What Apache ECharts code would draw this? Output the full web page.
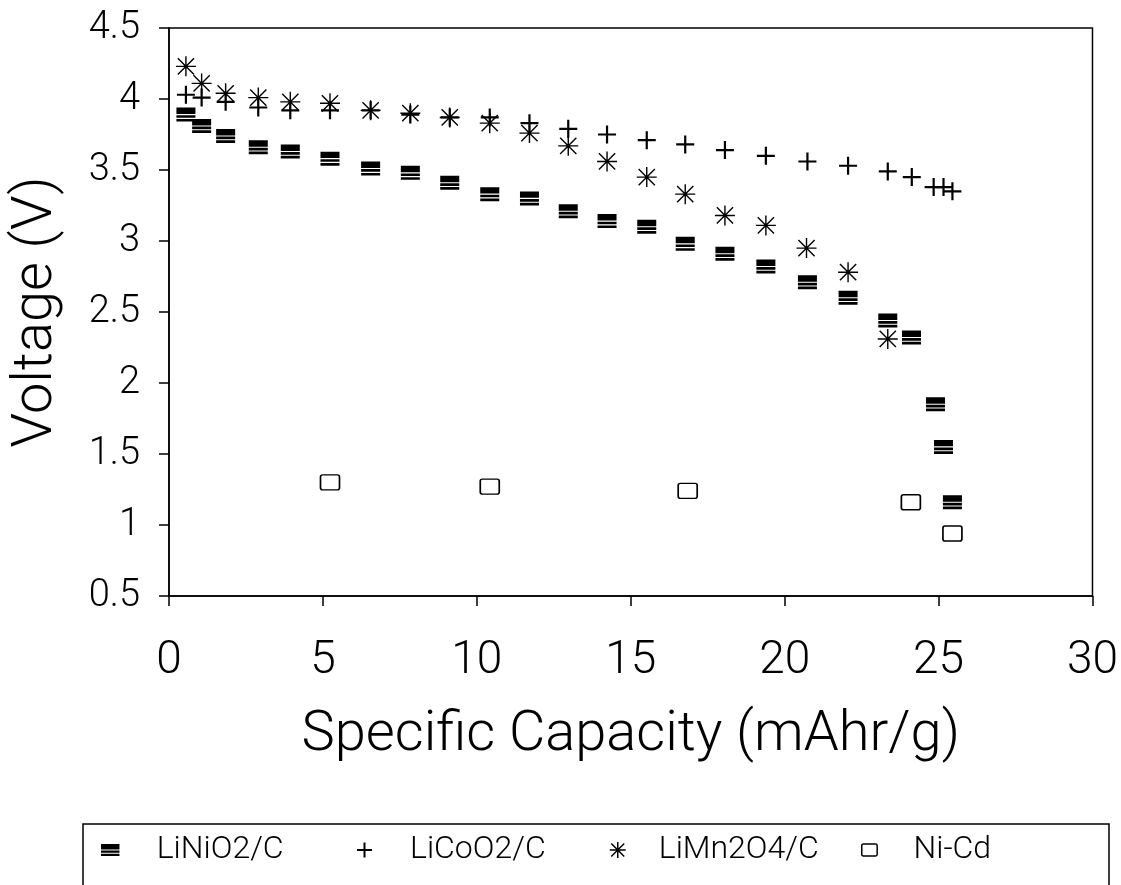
<!DOCTYPE html>
<html>
<head>
<meta charset="utf-8">
<script src="https://cdn.jsdelivr.net/npm/echarts@6/dist/echarts.min.js"></script>
<style>
  html, body { margin: 0; padding: 0; background: #fff; }
  #chart { width: 1121px; height: 885px; }
</style>
</head>
<body>
<div id="chart"></div>
<script>
// values
const seriesNames = ['LiNiO2/C', 'LiCoO2/C', 'LiMn2O4/C', 'Ni-Cd'];

const liNiCap = [0.55, 1.06, 1.84, 2.90, 3.94, 5.23, 6.55, 7.84, 9.12, 10.42, 11.71, 12.97, 14.23, 15.52, 16.77, 18.06, 19.39, 20.74, 22.06, 23.35, 24.12, 24.90, 25.16, 25.45];
const liNiVolt = [3.89, 3.81, 3.74, 3.66, 3.63, 3.58, 3.51, 3.48, 3.41, 3.33, 3.30, 3.21, 3.14, 3.10, 2.98, 2.91, 2.82, 2.71, 2.60, 2.44, 2.32, 1.85, 1.55, 1.16];

const liCoCap = [0.55, 1.06, 1.84, 2.90, 3.94, 5.23, 6.55, 7.84, 9.12, 10.42, 11.71, 12.97, 14.23, 15.52, 16.77, 18.06, 19.39, 20.74, 22.06, 23.35, 24.13, 24.84, 25.16, 25.45];
const liCoVolt = [4.03, 4.01, 3.98, 3.94, 3.92, 3.92, 3.92, 3.89, 3.87, 3.87, 3.83, 3.79, 3.75, 3.71, 3.68, 3.64, 3.60, 3.56, 3.53, 3.49, 3.45, 3.38, 3.38, 3.35];

const liMnCap = [0.55, 1.06, 1.84, 2.90, 3.94, 5.23, 6.55, 7.84, 9.12, 10.42, 11.71, 12.97, 14.23, 15.52, 16.77, 18.06, 19.39, 20.71, 22.06, 23.35];
const liMnVolt = [4.23, 4.11, 4.04, 4.01, 3.98, 3.97, 3.92, 3.90, 3.87, 3.83, 3.76, 3.67, 3.56, 3.45, 3.33, 3.18, 3.11, 2.95, 2.78, 2.31];

const niCdCap = [5.23, 10.42, 16.85, 24.10, 25.45];
const niCdVolt = [1.30, 1.27, 1.24, 1.16, 0.94];

const xTicks = [0, 5, 10, 15, 20, 25, 30];
const yTicks = [0.5, 1, 1.5, 2, 2.5, 3, 3.5, 4, 4.5];

const pair = (xs, ys) => xs.map((x, i) => [x, ys[i]]);

// marker shapes
const stripeIcon = 'path://M0 0H20V6H0Z M0 7H20V9.5H0Z M0 10.5H20V13H0Z';
const plusIcon = 'path://M0 8L16 8M8 0L8 16';
const starIcon = 'path://M0 8L16 8M8 0L8 16M1.5 1.5L14.5 14.5M14.5 1.5L1.5 14.5';
const boxIcon = 'path://M2 0H16Q18 0 18 2V12Q18 14 16 14H2Q0 14 0 12V2Q0 0 2 0Z';

const font = 'Roboto, "Liberation Sans", sans-serif';

const myChart = echarts.init(document.getElementById('chart'));

// one legend per entry so each can sit where the original puts it
const legendAt = (name, icon, left, itemWidth, itemHeight, textPad, itemStyle) => ({
  data: [{ name: name, icon: icon }],
  left: left,
  top: 834,
  padding: 0,
  itemWidth: itemWidth,
  itemHeight: itemHeight,
  itemStyle: itemStyle,
  selectedMode: false,
  textStyle: { fontFamily: font, fontWeight: 300, fontSize: 32, color: '#000', padding: [0, 0, 0, textPad] }
});

const option = {
  animation: false,
  backgroundColor: '#fff',
  grid: {
    left: 169,
    top: 28,
    width: 929,
    height: 568,
    show: true,
    borderColor: '#000',
    borderWidth: 1.5
  },
  xAxis: {
    type: 'value',
    min: 0,
    max: 30,
    interval: 5,
    name: 'Specific Capacity (mAhr/g)',
    nameLocation: 'middle',
    nameGap: 112,
    nameTextStyle: { fontFamily: font, fontWeight: 300, fontSize: 56, color: '#000' },
    axisLine: { lineStyle: { color: '#000', width: 1.5 } },
    axisTick: { inside: false, length: 10, lineStyle: { color: '#000', width: 1.5 } },
    axisLabel: {
      margin: 42,
      fontFamily: font,
      fontWeight: 300,
      fontSize: 46,
      color: '#000',
      formatter: v => (xTicks.indexOf(v) >= 0 ? String(v) : '')
    },
    splitLine: { show: false }
  },
  yAxis: {
    type: 'value',
    min: 0.5,
    max: 4.5,
    interval: 0.5,
    name: 'Voltage (V)',
    nameLocation: 'middle',
    nameGap: 104,
    nameTextStyle: { fontFamily: font, fontWeight: 300, fontSize: 56, color: '#000' },
    axisLine: { lineStyle: { color: '#000', width: 1.5 } },
    axisTick: { inside: false, length: 10, lineStyle: { color: '#000', width: 1.5 } },
    axisLabel: {
      margin: 29,
      fontFamily: font,
      fontWeight: 300,
      fontSize: 38,
      color: '#000',
      formatter: v => (yTicks.indexOf(v) >= 0 ? String(v) : '')
    },
    splitLine: { show: false }
  },
  legend: [
    legendAt(seriesNames[0], stripeIcon, 101, 19, 12, 32, { color: '#000', borderWidth: 0 }),
    legendAt(seriesNames[1], plusIcon, 356, 15, 15, 33, { color: 'transparent', borderColor: '#000', borderWidth: 2 }),
    legendAt(seriesNames[2], starIcon, 609, 16, 16, 28, { color: 'transparent', borderColor: '#000', borderWidth: 1.5 }),
    legendAt(seriesNames[3], boxIcon, 861, 16, 12, 31, { color: '#fff', borderColor: '#000', borderWidth: 1.5 })
  ],
  graphic: [
    {
      type: 'rect',
      shape: { x: 83, y: 824, width: 1026, height: 100 },
      style: { fill: 'none', stroke: '#000', lineWidth: 1.5 },
      silent: true
    }
  ],
  series: [
    {
      name: seriesNames[0],
      type: 'scatter',
      data: pair(liNiCap, liNiVolt),
      symbol: stripeIcon,
      symbolSize: [19, 14],
      itemStyle: { color: '#000', borderWidth: 0, opacity: 1 },
      emphasis: { disabled: true }
    },
    {
      name: seriesNames[1],
      type: 'scatter',
      data: pair(liCoCap, liCoVolt),
      symbol: plusIcon,
      symbolSize: 18,
      itemStyle: { color: 'transparent', borderColor: '#000', borderWidth: 2.2, opacity: 1 },
      emphasis: { disabled: true }
    },
    {
      name: seriesNames[2],
      type: 'scatter',
      data: pair(liMnCap, liMnVolt),
      symbol: starIcon,
      symbolSize: 20,
      itemStyle: { color: 'transparent', borderColor: '#000', borderWidth: 1.4, opacity: 1 },
      emphasis: { disabled: true }
    },
    {
      name: seriesNames[3],
      type: 'scatter',
      data: pair(niCdCap, niCdVolt),
      symbol: boxIcon,
      symbolSize: [19, 15],
      itemStyle: { color: '#fff', borderColor: '#000', borderWidth: 1.5, opacity: 1 },
      emphasis: { disabled: true }
    }
  ]
};

myChart.setOption(option);
</script>
</body>
</html>
